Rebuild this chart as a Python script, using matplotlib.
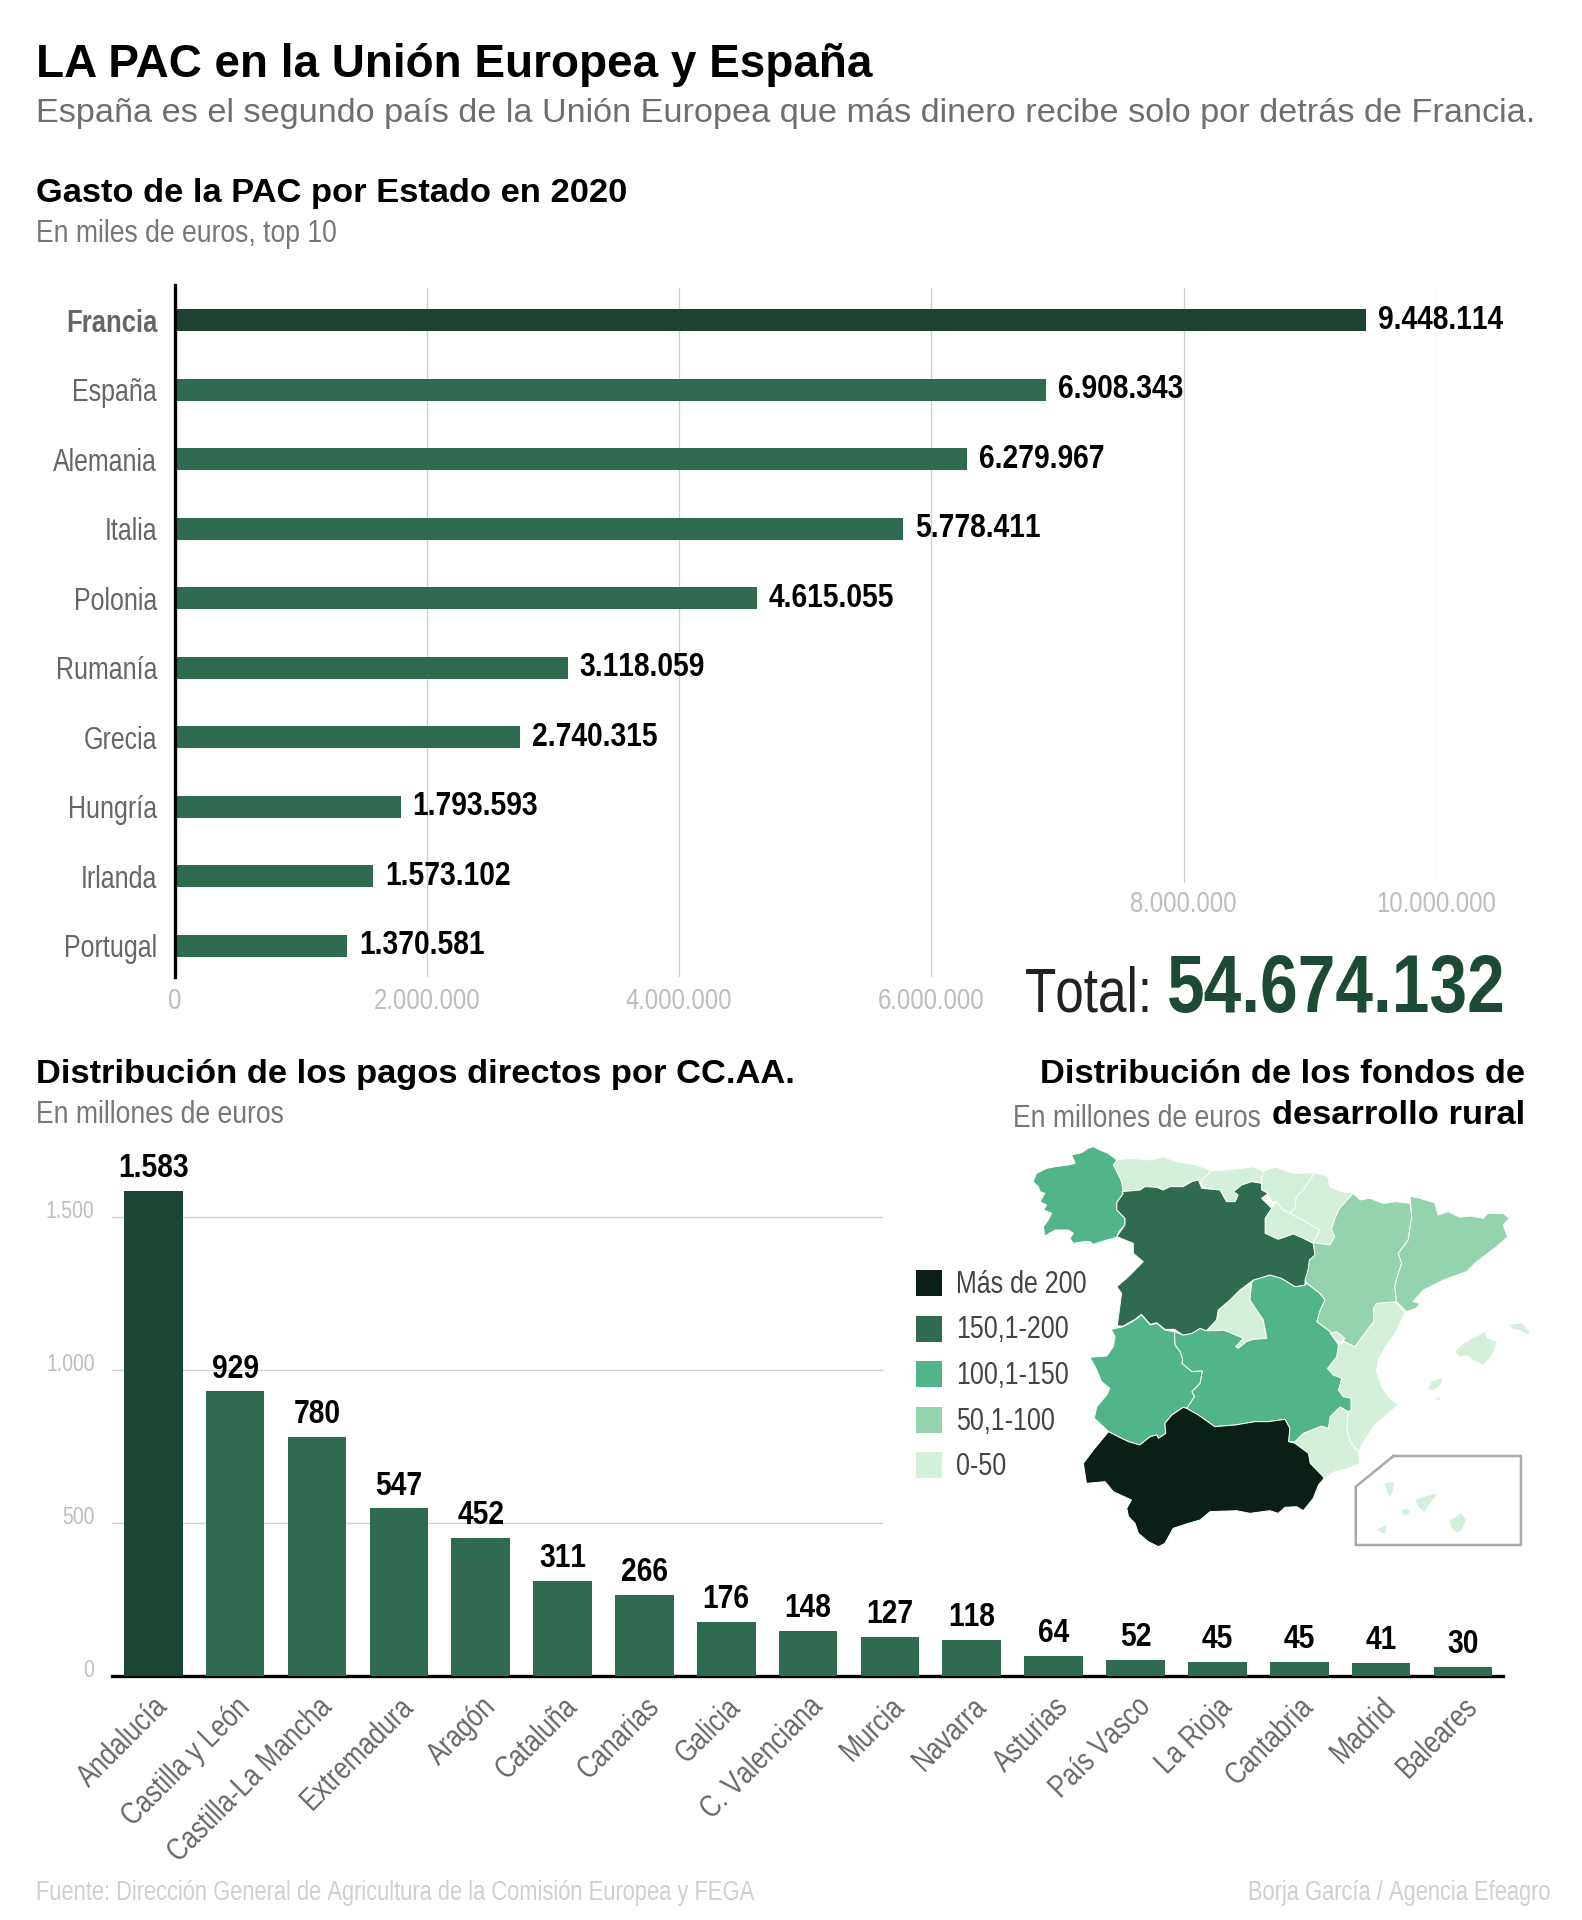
import matplotlib
matplotlib.use('Agg')
import matplotlib.pyplot as plt
from matplotlib import font_manager as fm
from matplotlib.transforms import blended_transform_factory
from fontTools.ttLib import TTFont
from fontTools.ttLib.tables._g_l_y_f import GlyphCoordinates

W, H = 1582, 1920
WIDE = ['Liberation Sans', 'DejaVu Sans']

# Top chart data
countries = ['Francia', 'España', 'Alemania', 'Italia', 'Polonia', 'Rumanía',
             'Grecia', 'Hungría', 'Irlanda', 'Portugal']
spending = [9448114, 6908343, 6279967, 5778411, 4615055, 3118059,
            2740315, 1793593, 1573102, 1370581]
spend_ticks = [0, 2000000, 4000000, 6000000, 8000000, 10000000]

# Bottom chart data
regions = ['Andalucía', 'Castilla y León', 'Castilla-La Mancha', 'Extremadura', 'Aragón',
           'Cataluña', 'Canarias', 'Galicia', 'C. Valenciana', 'Murcia', 'Navarra',
           'Asturias', 'País Vasco', 'La Rioja', 'Cantabria', 'Madrid', 'Baleares']
payments = [1583, 929, 780, 547, 452, 311, 266, 176, 148, 127, 118, 64, 52, 45, 45, 41, 30]
pay_ticks = [0, 500, 1000, 1500]

# Legend
legend_labels = ['Más de 200', '150,1-200', '100,1-150', '50,1-100', '0-50']
legend_colors = ['#0a1f16', '#2e6b50', '#52b58a', '#93d3ae', '#d5f0da']

# Map outlines
galicia = [(546,120),(526,100),(507,90),(492,80),(480,85),(465,98),(442,105),(450,130),(434,135),(404,140),(384,145),(361,160),(353,185),(365,200),(369,215),(380,220),(369,245),(384,255),(377,270),(396,280),(388,300),(377,320),(380,348),(404,330),(434,330),(446,340),(438,355),(446,370),(469,365),(484,365),(492,373),(523,360),(546,352),(550,335),(565,315),(565,295),(546,270),(546,248),(561,220),(557,185),(546,155),(538,135)]
asturias = [(546,120),(576,115),(626,120),(653,110),(684,125),(730,135),(765,152),(742,180),(742,195),(734,180),(719,185),(699,200),(669,200),(653,210),(638,202),(611,200),(600,210),(557,215),(561,220),(557,185),(546,155),(538,135)]
cantabria = [(765,152),(799,150),(834,145),(861,140),(884,155),(880,175),(880,190),(857,185),(834,195),(815,215),(826,225),(819,245),(799,245),(784,210),(753,205),(742,195),(742,180)]
pais_vasco = [(884,155),(899,145),(914,142),(953,160),(1003,158),(976,210),(960,230),(957,265),(945,280),(930,270),(914,245),(903,245),(895,220),(880,210),(880,190),(880,175)]
navarra = [(1003,158),(1033,170),(1037,200),(1064,215),(1091,220),(1057,270),(1045,310),(1041,330),(1049,350),(1037,375),(999,368),(1014,330),(968,295),(945,280),(957,265),(960,230),(976,210)]
rioja = [(888,295),(903,265),(914,245),(930,270),(945,280),(968,295),(1014,330),(999,368),(976,355),(953,342),(918,358),(888,340)]
castilla_leon = [(546,270),(546,248),(561,220),(557,215),(600,210),(611,200),(638,202),(653,210),(669,200),(699,200),(719,185),(734,180),(742,205),(784,210),(799,245),(819,245),(826,225),(815,215),(834,195),(857,185),(880,190),(880,210),(895,220),(880,235),(903,265),(888,295),(888,340),(918,358),(953,342),(976,355),(999,370),(1003,405),(990,420),(987,450),(980,480),(980,495),(957,500),(926,475),(899,465),(861,480),(830,510),(807,540),(780,570),(776,600),(753,632),(738,625),(719,640),(699,645),(679,628),(657,628),(638,608),(623,613),(603,583),(588,598),(561,618),(547,618),(553,560),(557,520),(546,500),(573,470),(607,425),(584,400),(584,370),(546,350),(565,315),(565,295)]
aragon = [(1091,220),(1107,240),(1130,235),(1160,250),(1191,245),(1222,250),(1226,290),(1218,360),(1195,400),(1203,430),(1195,460),(1187,500),(1191,545),(1145,550),(1138,565),(1138,605),(1126,625),(1095,680),(1072,665),(1038,635),(1007,605),(1015,570),(1026,540),(1014,520),(984,490),(972,460),(990,420),(1003,405),(999,368),(1037,375),(1049,350),(1041,330),(1045,310),(1057,270)]
cataluna = [(1222,228),(1245,235),(1279,248),(1287,285),(1310,275),(1337,292),(1360,288),(1391,295),(1402,280),(1437,280),(1451,295),(1437,315),(1447,350),(1422,380),(1376,425),(1352,455),(1299,480),(1253,510),(1229,545),(1246,550),(1237,565),(1214,575),(1191,545),(1187,500),(1195,460),(1203,430),(1195,400),(1218,360),(1226,290),(1224,255)]
valencia = [(1138,565),(1145,550),(1188,545),(1211,578),(1188,640),(1168,675),(1149,720),(1145,755),(1157,800),(1172,830),(1195,855),(1168,885),(1141,915),(1118,960),(1103,995),(1084,965),(1076,925),(1080,875),(1086,870),(1086,835),(1068,830),(1057,810),(1065,775),(1045,765),(1032,745),(1053,710),(1057,675),(1068,665),(1095,680),(1126,625),(1138,605)]
ademuz = [(1038,640),(1053,635),(1072,655),(1065,668),(1049,658)]
murcia = [(957,965),(976,940),(1018,918),(1034,925),(1038,890),(1061,860),(1080,875),(1076,925),(1084,965),(1103,995),(1107,1030),(1080,1045),(1049,1055),(1026,1075),(1022,1070),(992,1030),(988,1000),(957,970)]
la_mancha = [(861,480),(899,465),(926,475),(957,500),(980,495),(984,490),(1014,520),(1026,540),(1015,570),(1007,605),(1038,635),(1057,675),(1053,710),(1032,745),(1045,765),(1065,775),(1057,810),(1068,830),(1086,835),(1086,870),(1080,875),(1061,860),(1038,890),(1034,925),(1018,918),(976,940),(957,965),(942,965),(945,925),(934,898),(895,905),(865,905),(819,915),(772,920),(734,885),(707,865),(725,830),(719,815),(738,790),(743,753),(719,755),(696,730),(698,720),(692,695),(680,675),(679,635),(699,645),(719,640),(738,625),(753,632),(776,632),(792,630),(838,655),(820,680),(826,685),(845,665),(861,658),(892,655),(884,600),(853,540),(857,490)]
madrid = [(857,490),(853,540),(884,600),(892,655),(861,658),(845,665),(826,685),(820,680),(838,655),(792,630),(776,632),(753,632),(776,600),(780,570),(807,540),(830,510)]
extremadura = [(533,628),(561,620),(588,600),(603,585),(623,615),(638,610),(657,630),(679,635),(680,675),(692,695),(698,720),(696,730),(719,755),(743,753),(738,790),(719,815),(725,830),(707,865),(699,862),(673,885),(657,910),(659,940),(642,955),(638,945),(623,950),(599,975),(573,965),(557,955),(527,935),(511,915),(494,895),(500,860),(523,825),(530,805),(511,785),(500,750),(484,712),(523,708),(538,680),(542,650)]
andalucia = [(527,935),(557,955),(573,965),(599,975),(623,950),(638,945),(642,955),(659,940),(657,910),(673,885),(699,862),(707,865),(734,885),(772,920),(819,915),(865,905),(895,905),(934,898),(945,925),(942,965),(957,970),(988,1000),(992,1030),(1022,1070),(1024,1075),(1011,1095),(999,1135),(976,1172),(961,1160),(934,1162),(918,1180),(899,1172),(853,1180),(822,1172),(761,1175),(738,1200),(711,1210),(676,1225),(657,1270),(642,1280),(619,1265),(596,1240),(588,1210),(573,1190),(569,1165),(580,1140),(538,1115),(519,1085),(476,1090),(469,1030),(492,990)]
mallorca = [(1326,695),(1345,670),(1376,650),(1395,635),(1399,655),(1422,665),(1411,705),(1391,735),(1368,720),(1353,705),(1337,710)]
menorca = [(1453,615),(1480,610),(1497,635),(1495,645),(1476,630),(1460,628)]
ibiza = [(1264,805),(1272,785),(1295,775),(1295,790),(1276,812)]
formentera = [(1280,835),(1288,832),(1295,842)]
la_palma = [(1163,1090),(1185,1085),(1182,1115),(1175,1130)]
tenerife = [(1234,1140),(1257,1130),(1285,1120),(1268,1150),(1255,1175),(1242,1160)]
gomera = [(1203,1170),(1215,1165),(1222,1175),(1213,1188),(1205,1182)]
gran_canaria = [(1313,1202),(1341,1180),(1351,1200),(1341,1230),(1330,1238),(1318,1225)]
hierro = [(1144,1230),(1167,1215),(1165,1242)]
canarias_box = [(1184,1008),(1478,1008),(1478,1275),(1097,1275),(1097,1100),(1184,1008)]

map_groups = [
    ('#d5f0da', [asturias, cantabria, pais_vasco, navarra, rioja, valencia, murcia, madrid]),
    ('#93d3ae', [aragon, cataluna]),
    ('#52b58a', [galicia, la_mancha, extremadura]),
    ('#2e6b50', [castilla_leon]),
    ('#0a1f16', [andalucia]),
    ('#d5f0da', [ademuz]),
]
islands = [mallorca, menorca, ibiza, formentera, la_palma, tenerife, gomera, gran_canaria, hierro]


def make_condensed(bold, scale, out_name):
    # no narrow family installed, so squeeze Liberation Sans into one
    src = fm.findfont(fm.FontProperties(family='Liberation Sans', weight='bold' if bold else 'normal'))
    font = TTFont(src)
    glyf = font['glyf']
    hmtx = font['hmtx']
    for name in font.getGlyphOrder():
        g = glyf[name]
        if g.isComposite():
            for c in g.components:
                c.x = round(c.x * scale)
        elif g.numberOfContours > 0:
            g.coordinates = GlyphCoordinates([(round(x * scale), y) for x, y in g.coordinates])
        if g.numberOfContours != 0:
            g.removeHinting()
        adv, lsb = hmtx[name]
        hmtx[name] = (round(adv * scale), round(lsb * scale))
    for tag in ['kern', 'hdmx', 'VDMX', 'LTSH', 'cvt ', 'fpgm', 'prep']:
        if tag in font:
            del font[tag]
    font.save(out_name)
    return out_name


regular_file = make_condensed(False, 0.82, 'narrow_regular.ttf')
bold_file = make_condensed(True, 0.84, 'narrow_bold.ttf')


def narrow(size):
    return fm.FontProperties(fname=regular_file, size=size)


def narrow_bold(size):
    return fm.FontProperties(fname=bold_file, size=size)


def px_axes(left, top, right, bottom):
    return fig.add_axes([left / W, 1 - bottom / H, (right - left) / W, (bottom - top) / H])


fig = plt.figure(figsize=(W / 100, H / 100), dpi=100, facecolor='white')

# Background axes in pixels, used for the loose text
page = fig.add_axes([0, 0, 1, 1])
page.set_xlim(0, W)
page.set_ylim(H, 0)
page.axis('off')

page.text(36, 77, 'LA PAC en la Unión Europea y España', fontsize=33, fontweight='bold', family=WIDE, color='black')
page.text(36, 122, 'España es el segundo país de la Unión Europea que más dinero recibe solo por detrás de Francia.',
          fontsize=24.7, family=WIDE, color='#6e6e6e')
page.text(36, 202, 'Gasto de la PAC por Estado en 2020', fontsize=24.8, fontweight='bold', family=WIDE, color='black')
page.text(36, 242, 'En miles de euros, top 10', fontproperties=narrow(23.3), color='#777777')
page.text(36, 1083, 'Distribución de los pagos directos por CC.AA.', fontsize=24.8, fontweight='bold', family=WIDE, color='black')
page.text(36, 1123, 'En millones de euros', fontproperties=narrow(23.3), color='#777777')
page.text(1525, 1083, 'Distribución de los fondos de', fontsize=24.8, fontweight='bold', family=WIDE, color='black', ha='right')
page.text(1525, 1124, 'desarrollo rural', fontsize=24.8, fontweight='bold', family=WIDE, color='black', ha='right')
page.text(1013, 1127, 'En millones de euros', fontproperties=narrow(23.3), color='#777777')
page.text(1025, 1012, 'Total:', fontproperties=narrow(45), color='#222222')
page.text(1167, 1012, '54.674.132', fontproperties=narrow_bold(58), color='#1d4a35')
page.text(36, 1900, 'Fuente: Dirección General de Agricultura de la Comisión Europea y FEGA', fontproperties=narrow(19.3), color='#cfcfcf')
page.text(1550, 1900, 'Borja García / Agencia Efeagro', fontproperties=narrow(19.3), color='#cfcfcf', ha='right')

# Horizontal bars
ax1 = px_axes(174.5, 285, 1436, 977)
ax1.patch.set_alpha(0)
bar_colors = ['#1d4433'] + ['#2e6b50'] * 9
ax1.barh(range(len(countries)), spending, height=0.317, color=bar_colors, zorder=3)
ax1.set_xlim(0, 10000000)
ax1.set_ylim(9.453, -0.504)
for s in ['top', 'right', 'bottom']:
    ax1.spines[s].set_visible(False)
ax1.spines['left'].set_linewidth(2.4)
ax1.spines['left'].set_color('black')
ax1.spines['left'].set_zorder(5)
ax1.set_xticks([])
ax1.set_yticks(range(len(countries)))
ax1.set_yticklabels(countries, fontproperties=narrow(22), color='#666666')
ax1.get_yticklabels()[0].set_fontproperties(narrow_bold(22))
ax1.tick_params(axis='y', length=0, pad=12.5)

# Grid lines and x labels: the last two are shorter to leave room for the total
xtrans = blended_transform_factory(ax1.transData, page.transData)
for t in spend_ticks:
    short = t >= 8000000
    if t > 0:
        ax1.plot([t, t], [288, 882 if short else 977], color='#cfcfcf', lw=0.9, transform=xtrans, zorder=1)
    page.text(t, 904 if short else 1001, f'{t:,}'.replace(',', '.'), transform=xtrans, ha='center', va='center',
              fontproperties=narrow(21), color='#bdbdbd')

for i, v in enumerate(spending):
    ax1.annotate(f'{v:,}'.replace(',', '.'), (v, i), xytext=(8.5, 0), textcoords='offset points', va='center',
                 fontproperties=narrow_bold(24.2), color='black', zorder=6)

# Vertical bars
ax2 = px_axes(112, 1170, 1503, 1676)
ax2.patch.set_alpha(0)
pos = list(range(len(regions)))
bar_colors2 = ['#1b4633'] + ['#2e6b50'] * 16
ax2.bar(pos, payments, width=0.717, color=bar_colors2, zorder=3)
ax2.set_xlim(-0.5046, 16.49)
ax2.set_ylim(0, 506 / 0.3063)
for s in ['top', 'right', 'left']:
    ax2.spines[s].set_visible(False)
ax2.spines['bottom'].set_linewidth(2.4)
ax2.spines['bottom'].set_color('black')
ax2.set_yticks([])
ax2.set_xticks(pos)
ax2.set_xticklabels(regions, rotation=45, ha='right', rotation_mode='anchor', fontproperties=narrow(22.3), color='#666666')
ax2.tick_params(axis='x', length=0, pad=11.5)

ytrans = blended_transform_factory(page.transData, ax2.transData)
for t in pay_ticks:
    if t > 0:
        ax2.plot([112, 882], [t, t], color='#cfcfcf', lw=0.9, transform=ytrans, zorder=1)
    page.annotate(f'{t:,}'.replace(',', '.'), (94.5, t), xycoords=ytrans, xytext=(0, 3.5), textcoords='offset points',
                  ha='right', va='center', fontproperties=narrow(17), color='#bdbdbd')

for i, v in enumerate(payments):
    ax2.annotate(f'{v:,}'.replace(',', '.'), (i, v), xytext=(0, 5), textcoords='offset points', ha='center', va='bottom',
                 fontproperties=narrow_bold(24.2), color='black', annotation_clip=False)

# Map, drawn in the coordinates the outlines were traced in
ax3 = px_axes(880, 1120, 1560, 1580)
ax3.patch.set_alpha(0)
ax3.set_xlim(0, 1568)
ax3.set_ylim(1380, 0)
ax3.axis('off')
for color, shapes in map_groups:
    for shape in shapes:
        xs = [p[0] for p in shape]
        ys = [p[1] for p in shape]
        ax3.fill(xs, ys, facecolor=color, edgecolor='white', linewidth=0.7)
for shape in islands:
    ax3.fill([p[0] for p in shape], [p[1] for p in shape], facecolor='#d5f0da', edgecolor='none')
ax3.plot([p[0] for p in canarias_box], [p[1] for p in canarias_box], color='#aaaaaa', lw=1.8)

# Legend
for i, (label, color) in enumerate(zip(legend_labels, legend_colors)):
    y = 1270 + 45.5 * i
    page.add_patch(plt.Rectangle((916, y), 26, 26, facecolor=color, edgecolor='none'))
    page.text(956, y + 15, label, fontproperties=narrow(22), color='#444444', va='center')

fig.savefig('out.png', dpi=100)
